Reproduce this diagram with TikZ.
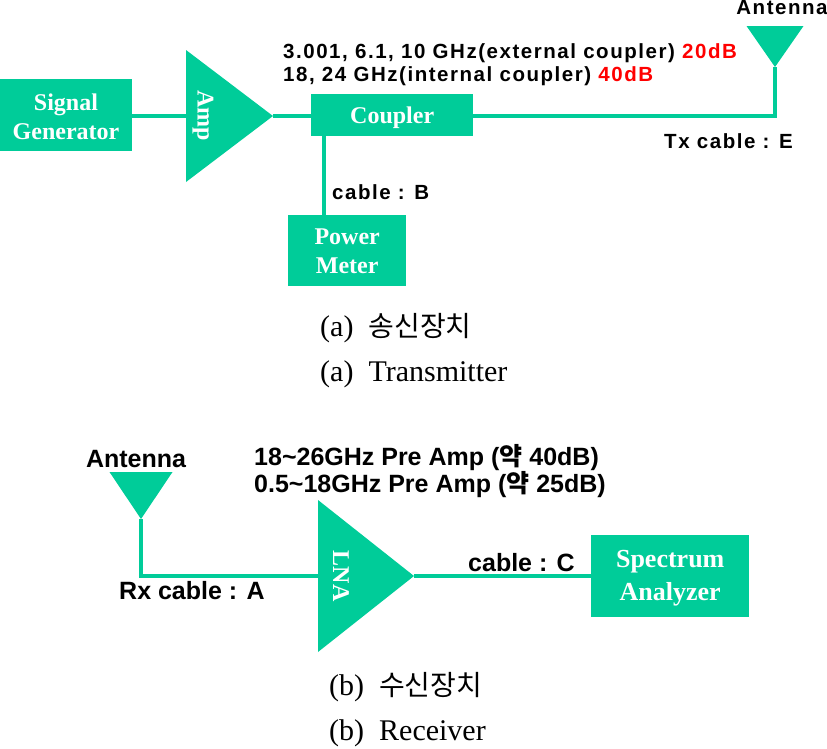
\documentclass[tikz,border=0pt]{standalone}
\usepackage{fontspec}
\setmainfont{Liberation Serif}
\newfontfamily\labelfont[LetterSpace=7.5]{Liberation Sans}
\newfontfamily\tightfont{Liberation Sans}
\newfontfamily\cjk{Noto Sans CJK KR}
\usepackage{xcolor}
\usetikzlibrary{shapes.geometric, positioning, calc}
\definecolor{teal_fill}{HTML}{00CC99}
\newcommand{\boxgap}[1]{\rule{0pt}{#1pt}}

\begin{document}
\begin{tikzpicture}[
    x=1pt, y=-1pt,
    % Define styles for the nodes
    box_node/.style={rectangle, fill=teal_fill, inner sep=0pt, align=center, text=white, font=\fontsize{24}{29}\selectfont\bfseries},
    tri_node/.style={isosceles triangle, isosceles triangle stretches, fill=teal_fill, inner sep=0pt, outer sep=0pt},
    tri_text/.style={rotate=-90, inner sep=0pt, text=white, font=\fontsize{24}{29}\selectfont\bfseries},
    label_node/.style={inner sep=0pt, align=left, anchor=west, font=\fontsize{20.5}{23}\selectfont\bfseries\labelfont},
    tight_node/.style={inner sep=0pt, align=left, anchor=west, font=\fontsize{25}{27}\selectfont\bfseries\tightfont},
    caption_node/.style={inner sep=0pt, anchor=west, font=\fontsize{30}{30}\selectfont},
    % Styles for connectors
    wire/.style={draw=teal_fill, line width=4pt}
]
    \useasboundingbox (0,0) rectangle (827,748);

    % =========================================================================
    % TRANSMITTER
    % =========================================================================
    \node (sig_gen) [box_node, minimum width=132pt, minimum height=72pt] at (66,115) {\boxgap{20}Signal\\Generator};

    \node (amp) [tri_node, minimum width=132pt, minimum height=87pt, anchor=lower side] at (186,116) {};
    \node (amp_text) [tri_text] at ($(amp.lower side)+(17,0)$) {Amp};
    \draw [wire] (sig_gen.east |- amp.lower side) -- (amp.lower side);

    \node (coupler) [box_node, minimum width=162pt, minimum height=42pt, right=38pt of amp.apex, yshift=1pt] {\boxgap{23}Coupler};
    \draw [wire] (amp.apex) -- (amp.apex -| coupler.west);

    \node (power_meter) [box_node, minimum width=118pt, minimum height=71pt, below=79pt of coupler, xshift=-45pt] {Power\\Meter};
    \coordinate (coupler_tap) at ($(coupler.south west)+(13,0)$);
    \draw [wire] (coupler_tap) -- (coupler_tap |- power_meter.north);

    \node (tx_ant) [tri_node, shape border rotate=270, minimum width=57pt, minimum height=41pt, anchor=apex] at (775,67) {};
    \draw [wire] (amp.apex -| coupler.east) -| (tx_ant.apex);

    \node (tx_ant_text) [label_node, anchor=center] at (782,8) {Antenna};
    \node (coupler_text) [label_node] at (283,65) {3.001, 6.1, 10 GHz(external coupler) \textcolor{red}{20dB}\\18, 24 GHz(internal coupler) \textcolor{red}{40dB}};
    \node (tx_cable) [label_node] at (664,141) {Tx cable : E};
    \node (cable_b) [label_node] at (332,192) {cable : B};

    \node (cap_a_kr) [caption_node] at (320,328) {(a)\ \ {\cjk\fontsize{28}{28}\selectfont 송신장치}};
    \node (cap_a_en) [caption_node, below=18pt of cap_a_kr.south west, anchor=north west] {(a)\ \ Transmitter};

    % =========================================================================
    % RECEIVER
    % =========================================================================
    \node (rx_ant) [tri_node, shape border rotate=270, minimum width=63pt, minimum height=47pt, anchor=apex] at (141,519) {};
    \node (rx_ant_text) [tight_node, anchor=center] at (136,459) {Antenna};

    \node (lna) [tri_node, minimum width=152pt, minimum height=96pt, anchor=lower side] at (318,576) {};
    \node (lna_text) [tri_text] at ($(lna.lower side)+(23,0)$) {LNA};
    \draw [wire] (rx_ant.apex) |- (lna.lower side);

    \node (analyzer) [box_node, minimum width=158pt, minimum height=82pt, right=177pt of lna.apex, font=\fontsize{26}{33}\selectfont\bfseries] {\boxgap{22}Spectrum\\Analyzer};
    \draw [wire] (lna.apex) -- (analyzer);

    \node (lna_text_top) [tight_node] at (254,471) {18\textasciitilde26GHz Pre Amp ({\cjk 약} 40dB)\\0.5\textasciitilde18GHz Pre Amp ({\cjk 약} 25dB)};
    \node (cable_c) [tight_node] at (468,563) {cable : C};
    \node (rx_cable) [tight_node] at (119,591) {Rx cable : A};

    \node (cap_b_kr) [caption_node] at (329,687) {(b)\ \ {\cjk\fontsize{28}{28}\selectfont 수신장치}};
    \node (cap_b_en) [caption_node, below=17pt of cap_b_kr.south west, anchor=north west] {(b)\ \ Receiver};

\end{tikzpicture}
\end{document}
